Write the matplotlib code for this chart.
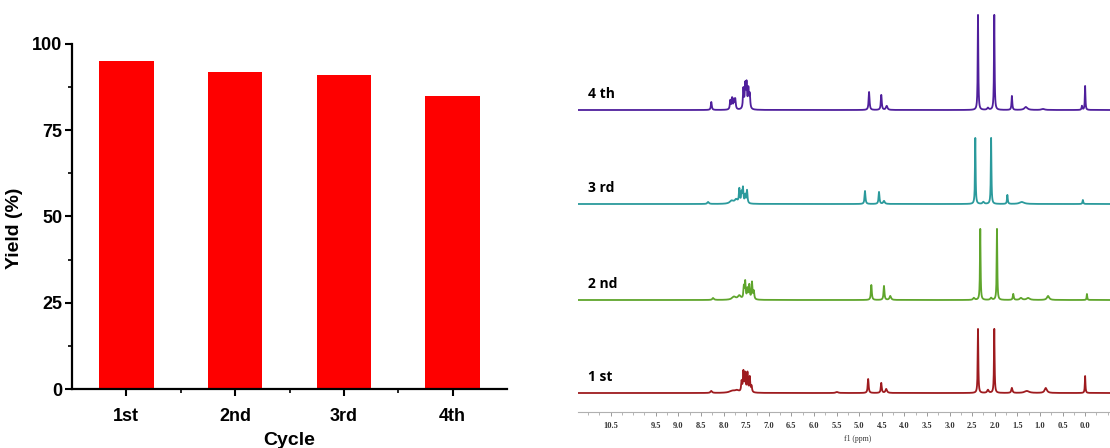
import numpy as np
import matplotlib
matplotlib.use("Agg")
import matplotlib.pyplot as plt
from matplotlib.ticker import MultipleLocator, FixedLocator

# Recycling yields
cycles = ["1st", "2nd", "3rd", "4th"]
yields = [95, 92, 91, 85]

# 1H NMR peak lists per cycle: shift (ppm), height, half-width (ppm)
ppm_1st = [8.27, 7.80, 7.70, 7.60, 7.56, 7.52, 7.47, 7.42, 7.38, 5.49, 4.80, 4.51, 4.40, 2.37, 2.15, 2.01, 1.62, 1.29, 0.87, 0.00]
int_1st = [2, 2, 2, 10, 20, 18, 19, 15, 6, 1, 14, 10, 4, 64, 3, 64, 5, 2, 5, 17]
hw_1st = [0.02, 0.08, 0.05, 0.012, 0.012, 0.012, 0.012, 0.012, 0.012, 0.03, 0.012, 0.012, 0.02, 0.008, 0.02, 0.008, 0.015, 0.06, 0.03, 0.008]

ppm_2nd = [8.23, 7.77, 7.65, 7.55, 7.52, 7.47, 7.43, 7.37, 7.33, 4.73, 4.45, 4.31, 2.46, 2.32, 2.08, 1.95, 1.59, 1.42, 1.26, 0.82, -0.04]
int_2nd = [2, 3, 4, 12, 17, 10, 14, 17, 8, 15, 14, 4, 2, 71, 2, 71, 6, 2, 2, 4, 6]
hw_2nd = [0.02, 0.05, 0.04, 0.012, 0.012, 0.012, 0.012, 0.012, 0.012, 0.012, 0.012, 0.02, 0.02, 0.008, 0.02, 0.008, 0.012, 0.03, 0.04, 0.03, 0.008]

ppm_3rd = [8.34, 7.82, 7.72, 7.65, 7.60, 7.57, 7.52, 7.48, 4.87, 4.56, 4.45, 2.43, 2.25, 2.08, 1.72, 1.40, 0.05]
int_3rd = [2, 3, 4, 14, 10, 15, 8, 13, 13, 12, 3, 66, 2, 66, 9, 2, 4]
hw_3rd = [0.02, 0.05, 0.04, 0.012, 0.012, 0.012, 0.012, 0.012, 0.012, 0.012, 0.02, 0.008, 0.02, 0.008, 0.01, 0.06, 0.01]

ppm_4th = [8.27, 7.85, 7.81, 7.77, 7.74, 7.56, 7.52, 7.49, 7.45, 7.42, 4.78, 4.51, 4.39, 2.37, 2.15, 2.01, 1.62, 1.31, 0.93, 0.07, 0.00]
int_4th = [8, 9, 11, 9, 10, 20, 23, 24, 19, 14, 18, 15, 4, 95, 2, 95, 14, 3, 1, 4, 24]
hw_4th = [0.012, 0.012, 0.012, 0.012, 0.012, 0.012, 0.012, 0.012, 0.012, 0.012, 0.012, 0.012, 0.02, 0.008, 0.02, 0.008, 0.01, 0.04, 0.04, 0.01, 0.008]

spec_labels = ["1 st", "2 nd", "3 rd", "4 th"]
spec_colors = ["#9e1b1f", "#5fa52c", "#2b9a9c", "#4f1f9c"]

fig = plt.figure(figsize=(11.1, 4.48), dpi=100)

# ---- bar chart ----
ax = fig.add_axes([72 / 1110, 59 / 448, 435 / 1110, 345 / 448])
x = np.arange(1, len(cycles) + 1)
ax.bar(x, yields, width=0.5, color="#fe0000")
ax.set_xlim(0.5, 4.5)
ax.set_ylim(0, 100)
ax.set_xticks(x)
ax.set_xticklabels(cycles)
ax.xaxis.set_minor_locator(FixedLocator([1.5, 2.5, 3.5]))
ax.yaxis.set_major_locator(MultipleLocator(25))
ax.yaxis.set_minor_locator(MultipleLocator(12.5))
for s in ["top", "right"]:
    ax.spines[s].set_visible(False)
for s in ["left", "bottom"]:
    ax.spines[s].set_linewidth(1.6)
ax.tick_params(which="major", direction="out", length=5, width=1.5, labelsize=13)
ax.tick_params(which="minor", direction="out", length=3, width=1.2)
ax.tick_params(axis="x", which="major", pad=9)
ax.tick_params(axis="y", which="major", pad=2)
for lab in ax.get_xticklabels() + ax.get_yticklabels():
    lab.set_fontfamily("Liberation Sans")
    lab.set_fontweight("bold")
ax.set_ylabel("Yield (%)", fontsize=14, fontweight="bold", fontfamily="Liberation Sans")
ax.set_xlabel("Cycle", fontsize=14, fontweight="bold", fontfamily="Liberation Sans")
ax.yaxis.set_label_coords(-0.112, 0.467)
ax.xaxis.set_label_coords(0.5, -0.125)

# ---- stacked NMR spectra ----
ax2 = fig.add_axes([578 / 1110, 36 / 448, 532 / 1110, 412 / 448])
ax2.set_xlim(11.22, -0.55)
ax2.set_ylim(0, 412)
grid = np.arange(-0.6, 11.3, 0.0005)
peaks = [(ppm_1st, int_1st, hw_1st), (ppm_2nd, int_2nd, hw_2nd),
         (ppm_3rd, int_3rd, hw_3rd), (ppm_4th, int_4th, hw_4th)]
offsets = [19, 112, 208, 302]
for (pos, hgt, hw), off, col, lab in zip(peaks, offsets, spec_colors, spec_labels):
    trace = np.zeros_like(grid)
    for p, h, w in zip(pos, hgt, hw):
        trace += h / (1 + ((grid - p) / w) ** 2)
    ax2.plot(grid, trace + off, color=col, lw=1.3)
    ax2.text(10.99, off + 16, lab, fontsize=10, fontweight="bold",
             fontfamily="Open Sans", va="center", ha="left")

for s in ["top", "right", "left"]:
    ax2.spines[s].set_visible(False)
ax2.spines["bottom"].set_color("#b0b0b0")
ax2.spines["bottom"].set_linewidth(0.8)
ax2.set_yticks([])
tick_vals = [10.5] + [v / 2 for v in range(19, -1, -1)]
ax2.set_xticks(tick_vals)
ax2.set_xticklabels([f"{v:.1f}" for v in tick_vals])
ax2.xaxis.set_minor_locator(MultipleLocator(0.25))
ax2.tick_params(axis="x", which="major", direction="out", length=3, width=0.7,
                color="#999999", labelsize=6, labelcolor="#333333", pad=4)
ax2.tick_params(axis="x", which="minor", direction="out", length=2, width=0.6, color="#aaaaaa")
for lab in ax2.get_xticklabels():
    lab.set_fontfamily("Liberation Serif")
    lab.set_fontweight("bold")
ax2.set_xlabel("f1 (ppm)", fontsize=5.5, fontfamily="Liberation Serif", color="#333333")
ax2.xaxis.set_label_coords(0.526, -0.055)

fig.savefig("out.png", dpi=100)
